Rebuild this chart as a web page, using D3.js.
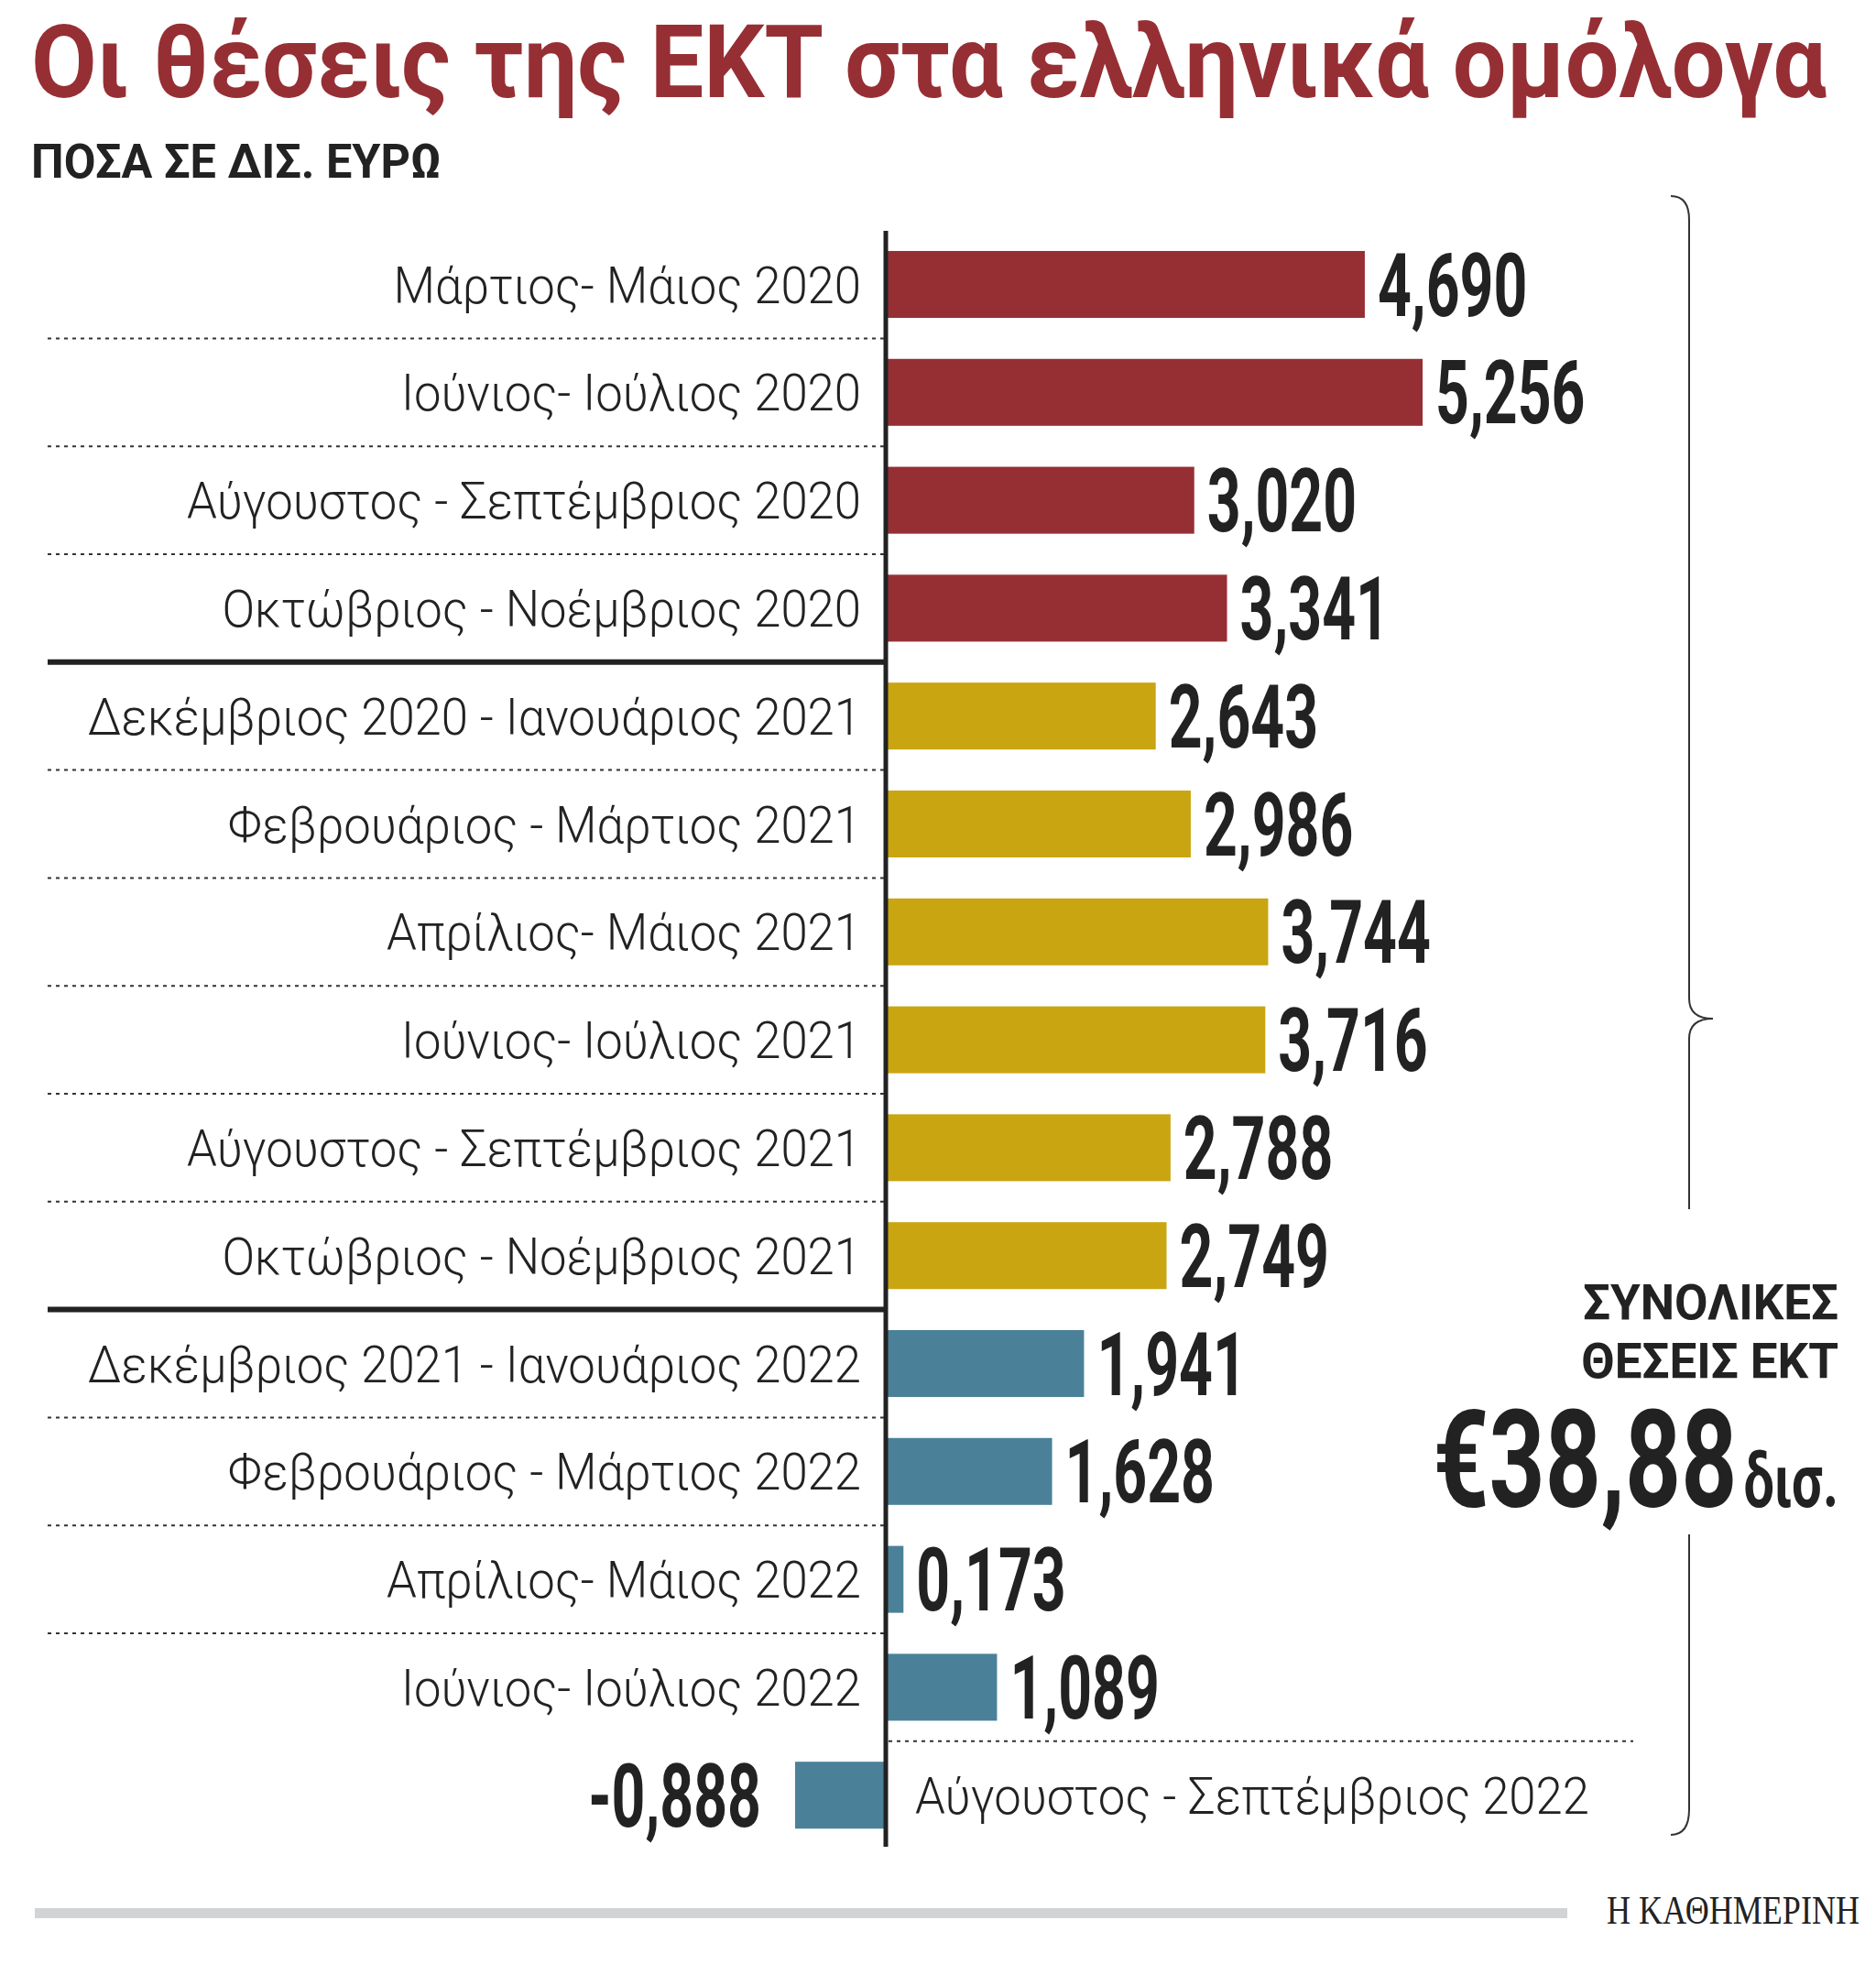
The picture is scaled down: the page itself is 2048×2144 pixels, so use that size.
<!DOCTYPE html>
<html><head><meta charset="utf-8">
<script src="https://cdn.jsdelivr.net/npm/d3@7"></script>
<style>body{margin:0;background:#fff}</style>
</head><body>
<script>
// data
var periods = ["Μάρτιος- Μάιος 2020","Ιούνιος- Ιούλιος 2020","Αύγουστος - Σεπτέμβριος 2020","Οκτώβριος - Νοέμβριος 2020",
  "Δεκέμβριος 2020 - Ιανουάριος 2021","Φεβρουάριος - Μάρτιος 2021","Απρίλιος- Μάιος 2021","Ιούνιος- Ιούλιος 2021",
  "Αύγουστος - Σεπτέμβριος 2021","Οκτώβριος - Νοέμβριος 2021","Δεκέμβριος 2021 - Ιανουάριος 2022","Φεβρουάριος - Μάρτιος 2022",
  "Απρίλιος- Μάιος 2022","Ιούνιος- Ιούλιος 2022","Αύγουστος - Σεπτέμβριος 2022"]
var values = [4.690,5.256,3.020,3.341,2.643,2.986,3.744,3.716,2.788,2.749,1.941,1.628,0.173,1.089,-0.888]
var years = ["2020","2020","2020","2020","2021","2021","2021","2021","2021","2021","2022","2022","2022","2022","2022"]
var yearColors = {"2020":"#962f34","2021":"#c9a512","2022":"#4a8199"}

var W = 2048, H = 2144
var svg = d3.select("body").append("svg").attr("width", W).attr("height", H)

var x = d3.scaleLinear().domain([0, 1]).range([967, 1078.5])
var y = d3.scaleBand().domain(d3.range(values.length)).range([251.6, 2018.6]).paddingInner(0.38).paddingOuter(0.19)
var pitch = y.step()
var fmt = function(v){ return d3.format(".3f")(v).replace(".", ",").replace("−","-") }

// condensed text helper
function ctext(g, tx, ty, sx, str, opts){
  var t = g.append("text").attr("transform", "translate(" + tx + "," + ty + ") scale(" + sx + ",1)")
    .text(str)
  for (var k in opts) t.style(k, opts[k])
  return t
}

// title
ctext(svg, 34, 106, 0.93, "Οι θέσεις της ΕΚΤ στα ελληνικά ομόλογα",
  {"font-family":"Roboto","font-weight":"700","font-size":"112px","fill":"#962f34"})
ctext(svg, 34, 194, 0.97, "ΠΟΣΑ ΣΕ ΔΙΣ. ΕΥΡΩ",
  {"font-family":"Roboto","font-weight":"700","font-size":"52px","fill":"#222"})

// separators
values.forEach(function(v, i){
  if (i == values.length - 1) return
  var yy = y(i) + y.bandwidth() + (pitch - y.bandwidth()) / 2
  var thick = (i == 3 || i == 9)
  if (i == values.length - 2) {
    svg.append("line").attr("x1", 970).attr("x2", 1783).attr("y1", yy).attr("y2", yy)
      .attr("stroke", "#333").attr("stroke-width", 2).attr("stroke-dasharray", "4,5")
    return
  }
  svg.append("line").attr("x1", 52).attr("x2", 965).attr("y1", yy).attr("y2", yy)
    .attr("stroke", thick ? "#222" : "#333").attr("stroke-width", thick ? 6 : 2)
    .attr("stroke-dasharray", thick ? null : "4,5")
})

// bars
svg.selectAll("rect.bar").data(values).enter().append("rect").attr("class", "bar")
  .attr("x", function(d){ return Math.min(x(0), x(d)) })
  .attr("width", function(d){ return Math.abs(x(d) - x(0)) })
  .attr("y", function(d, i){ return y(i) })
  .attr("height", y.bandwidth())
  .attr("fill", function(d, i){ return yearColors[years[i]] })

// axis line
svg.append("line").attr("x1", x(0)).attr("x2", x(0)).attr("y1", 252).attr("y2", 2016)
  .attr("stroke", "#222").attr("stroke-width", 5)

// labels
values.forEach(function(v, i){
  var cy = y(i) + y.bandwidth() / 2
  var lab = {"font-family":"Roboto","font-weight":"300","font-size":"56px","fill":"#222"}
  var num = {"font-family":"Roboto","font-weight":"700","font-size":"96px","fill":"#222"}
  if (v >= 0) {
    ctext(svg, 940, cy + 20, 0.94, periods[i], lab).attr("text-anchor", "end")
    ctext(svg, x(v) + 14, cy + 34, 0.67, fmt(v), num)
  } else {
    ctext(svg, 999, cy + 20, 0.94, periods[i], lab)
    ctext(svg, 831, cy + 34, 0.67, fmt(v), num).attr("text-anchor", "end")
  }
})

// brace
var bx = 1844
svg.append("path")
  .attr("d", "M" + (bx - 20) + ",214 Q" + bx + ",214 " + bx + ",240 L" + bx + ",1090 Q" + bx + ",1112 " + (bx + 26) + ",1112 Q" + bx + ",1112 " + bx + ",1134 L" + bx + ",1320")
  .attr("fill", "none").attr("stroke", "#333").attr("stroke-width", 2)
svg.append("path")
  .attr("d", "M" + bx + ",1675 L" + bx + ",1975 Q" + bx + ",2003 " + (bx - 20) + ",2003")
  .attr("fill", "none").attr("stroke", "#333").attr("stroke-width", 2)

// total
var bold = {"font-family":"Roboto","font-weight":"700","font-size":"54px","fill":"#222"}
ctext(svg, 2007, 1440, 0.98, "ΣΥΝΟΛΙΚΕΣ", bold).attr("text-anchor", "end")
ctext(svg, 2007, 1504, 0.98, "ΘΕΣΕΙΣ ΕΚΤ", bold).attr("text-anchor", "end")
var tot = svg.append("text").attr("transform", "translate(2007,1645) scale(0.72,1)").attr("text-anchor", "end")
  .style("font-family", "Roboto").style("font-weight", "700").style("fill", "#222")
tot.append("tspan").style("font-size", "148px").text("€38,88")
tot.append("tspan").style("font-size", "82px").attr("dx", 10).text("δισ.")

// footer
svg.append("rect").attr("x", 38).attr("y", 2083).attr("width", 1673).attr("height", 11).attr("fill", "#d2d3d5")
ctext(svg, 2030, 2100, 0.82, "Η ΚΑΘΗΜΕΡΙΝΗ",
  {"font-family":"Liberation Serif","font-size":"44px","fill":"#222"}).attr("text-anchor", "end")
</script>
</body></html>
